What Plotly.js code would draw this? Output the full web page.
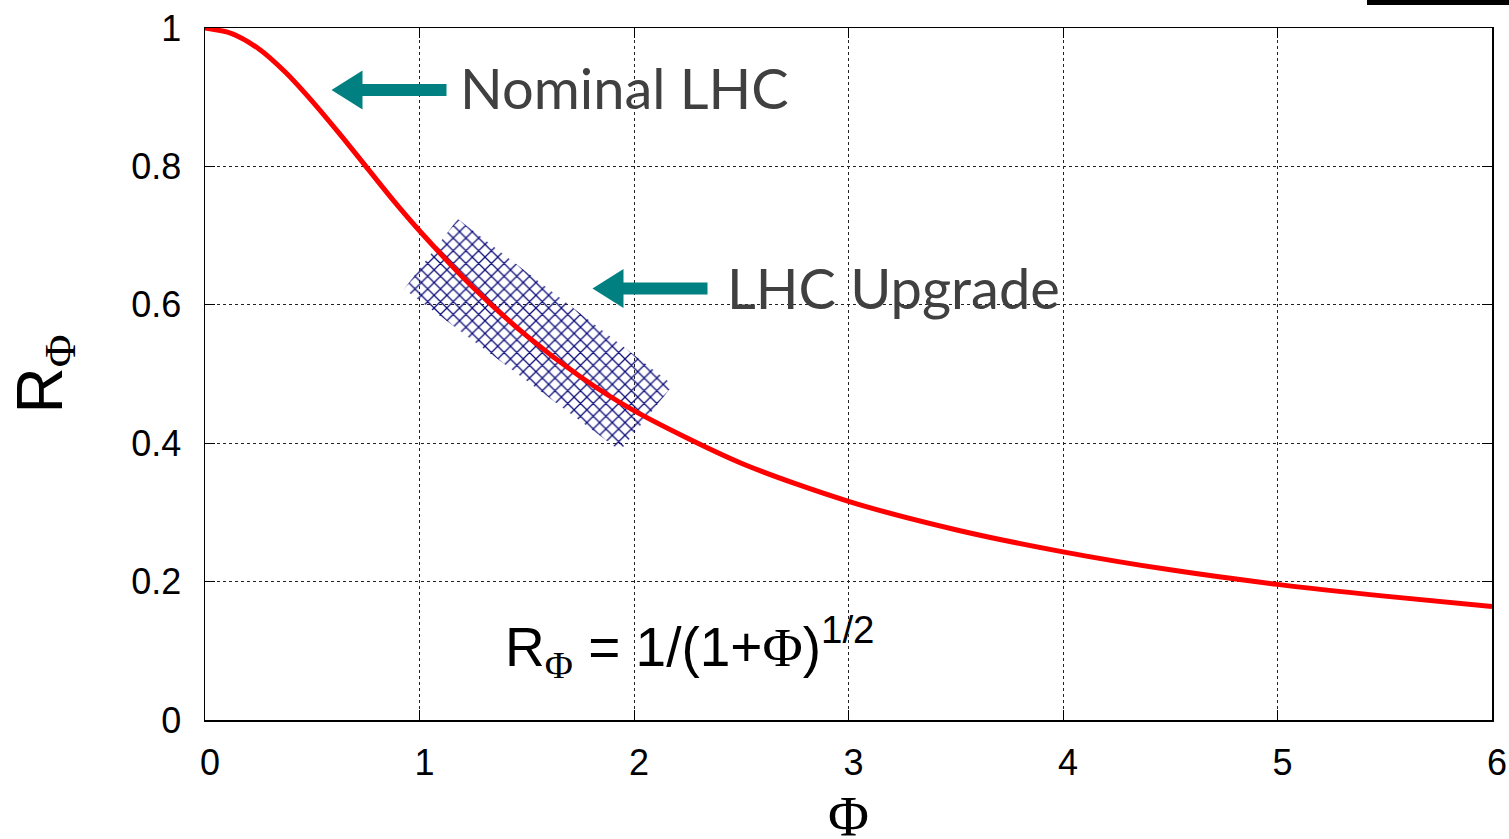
<!DOCTYPE html>
<html>
<head>
<meta charset="utf-8">
<script src="https://cdn.plot.ly/plotly-3.0.1.min.js"></script>
<style>html,body{margin:0;padding:0;background:#fff;}#chart{width:1509px;height:839px;}</style>
</head>
<body>
<div id="chart"></div>
<script>
// Curve R_Phi
const phi = [0, 0.125, 0.25, 0.375, 0.5, 0.625, 0.75, 0.875, 1.0, 1.25, 1.5, 1.75, 2.0, 2.5, 3.0, 3.5, 4.0, 4.5, 5.0, 5.5, 6.0];
const rPhi = [1.0, 0.992, 0.97, 0.936, 0.894, 0.848, 0.80, 0.752, 0.707, 0.625, 0.555, 0.496, 0.447, 0.371, 0.316, 0.275, 0.243, 0.217, 0.196, 0.179, 0.164];
// LHC upgrade band corners
const bandX = [0.928, 1.179, 2.182, 1.935, 0.928];
const bandY = [0.623, 0.724, 0.484, 0.389, 0.623];
const xTicks = [0, 1, 2, 3, 4, 5, 6];
const yTicks = [0, 0.2, 0.4, 0.6, 0.8, 1];
const yTickText = ['0', '0.2', '0.4', '0.6', '0.8', '1'];

const W = 1509, H = 839;
const M = {l: 205, r: 17, t: 28, b: 119};
const PW = W - M.l - M.r, PH = H - M.t - M.b;
const px = v => (v - M.l) / PW;
const py = v => (H - M.b - v) / PH;

function arrowPath(tip, headBack, shaftEnd, cy, headHalf, shaftHalf) {
  const pts = [
    [tip, cy], [headBack, cy - headHalf], [headBack, cy - shaftHalf], [shaftEnd, cy - shaftHalf],
    [shaftEnd, cy + shaftHalf], [headBack, cy + shaftHalf], [headBack, cy + headHalf]
  ];
  return 'M' + pts.map(p => px(p[0]).toFixed(5) + ',' + py(p[1]).toFixed(5)).join(' L') + ' Z';
}

const teal = '#008080';
const serifPhi = '<span style="font-family:\'Liberation Serif\',serif">Φ</span>';

const traces = [
  {
    x: bandX, y: bandY, type: 'scatter', mode: 'lines', fill: 'toself',
    line: {width: 0, color: 'rgba(0,0,0,0)'},
    fillcolor: 'rgba(0,0,0,0)',
    fillpattern: {shape: 'x', fgcolor: '#0c0c7a', bgcolor: 'rgba(255,255,255,0)', size: 9, solidity: 0.26},
    hoverinfo: 'skip', showlegend: false
  },
  {
    x: phi, y: rPhi, type: 'scatter', mode: 'lines',
    line: {color: '#ff0000', width: 5, shape: 'spline', smoothing: 0.8},
    showlegend: false
  }
];

const axisCommon = {
  showline: true, linecolor: '#000', linewidth: 1.5, mirror: 'allticks',
  ticks: 'inside', ticklen: 10, tickcolor: '#000', tickwidth: 1,
  showgrid: true, gridcolor: '#222', gridwidth: 1, griddash: 'dot',
  zeroline: false,
  tickfont: {family: 'Liberation Sans, Arial, sans-serif', size: 36, color: '#000'}
};

const layout = {
  width: W, height: H,
  margin: M,
  paper_bgcolor: '#fff', plot_bgcolor: '#fff',
  xaxis: Object.assign({}, axisCommon, {
    range: [0, 6], tickvals: xTicks, ticktext: xTicks.map(String),
    ticklabelstandoff: 10, ticklabelshift: 5
  }),
  yaxis: Object.assign({}, axisCommon, {
    range: [0, 1], tickvals: yTicks, ticktext: yTickText,
    ticklabelstandoff: 15,
    title: {text: 'R<sub>' + serifPhi + '</sub>', font: {family: 'Liberation Sans, Arial, sans-serif', size: 64, color: '#000'}, standoff: 48}
  }),
  shapes: [
    {type: 'path', xref: 'paper', yref: 'paper', path: arrowPath(331.5, 362.5, 446.5, 90, 19.5, 6), fillcolor: teal, line: {width: 0}},
    {type: 'path', xref: 'paper', yref: 'paper', path: arrowPath(592.5, 623.5, 707.5, 288.5, 19.5, 6), fillcolor: teal, line: {width: 0}},
    {type: 'rect', xref: 'paper', yref: 'paper', x0: px(1367), x1: px(1512), y0: py(5), y1: py(-4), fillcolor: '#000', line: {width: 0}}
  ],
  annotations: [
    {xref: 'paper', yref: 'paper', x: 0.5, y: py(817), xanchor: 'center', yanchor: 'middle', showarrow: false,
     text: 'Φ', font: {family: 'Liberation Serif, serif', size: 56, color: '#000'}},
    {xref: 'paper', yref: 'paper', x: px(458), y: py(87), xanchor: 'left', yanchor: 'middle', showarrow: false,
     text: 'Nominal LHC', font: {family: 'Lato, sans-serif', size: 56, color: '#404040'}},
    {xref: 'paper', yref: 'paper', x: px(725), y: py(287), xanchor: 'left', yanchor: 'middle', showarrow: false,
     text: 'LHC Upgrade', font: {family: 'Lato, sans-serif', size: 56, color: '#404040'}},
    {xref: 'paper', yref: 'paper', x: px(503), y: py(647), xanchor: 'left', yanchor: 'middle', showarrow: false,
     text: 'R<sub>' + serifPhi + '</sub> = 1/(1+' + serifPhi + ')<sup>1/2</sup>', font: {family: 'Liberation Sans, Arial, sans-serif', size: 55, color: '#000'}}
  ]
};

Plotly.newPlot('chart', traces, layout, {staticPlot: true, displayModeBar: false});
</script>
</body>
</html>
